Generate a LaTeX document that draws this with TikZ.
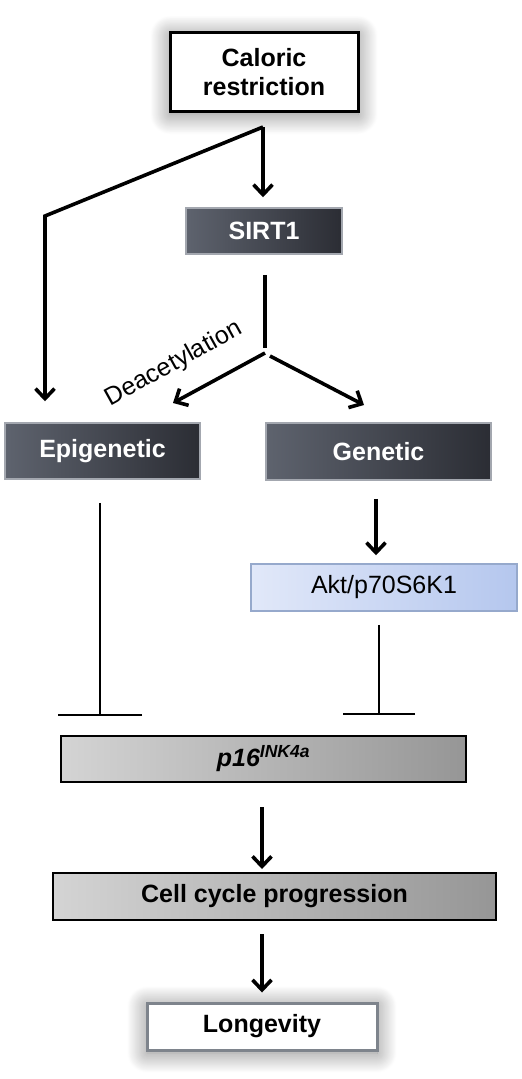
\documentclass[tikz,border=0pt]{standalone}
\usepackage{fontspec}
\setmainfont{Liberation Sans}
\usetikzlibrary{arrows.meta,shadows.blur,positioning,calc}
\definecolor{darkL}{HTML}{5E636E}
\definecolor{darkR}{HTML}{2B2D34}
\definecolor{darkB}{HTML}{A3A7AF}
\definecolor{aktL}{HTML}{E1E8F9}
\definecolor{aktR}{HTML}{B5C7EE}
\definecolor{aktB}{HTML}{96A9CC}
\definecolor{grayL}{HTML}{D4D4D4}
\definecolor{grayR}{HTML}{969696}
\definecolor{lonB}{HTML}{7E848C}

\begin{document}
\begin{tikzpicture}[x=1pt,y=-1pt,
    every node/.style={font=\fontsize{25}{29}\selectfont, inner sep=0pt},
    box/.style={draw, rectangle, align=center},
    glow/.style={box, fill=white, line width=3pt, font=\fontsize{25}{29}\selectfont\bfseries,
          blur shadow={shadow xshift=0pt, shadow yshift=-3pt, shadow blur radius=20pt,
          shadow blur steps=30, shadow opacity=50}},
    darkbox/.style={box, draw=darkB, line width=1.5pt, left color=darkL, right color=darkR,
          text=white, font=\fontsize{25}{29}\selectfont\bfseries},
    aktbox/.style={box, draw=aktB, line width=1.5pt, left color=aktL, right color=aktR},
    graybox/.style={box, draw=black, line width=2pt, left color=grayL, right color=grayR,
          font=\fontsize{25}{29}\selectfont\bfseries},
    arr/.style={line width=3.6pt, -{Straight Barb[length=10pt,width=19pt]}},
    inh/.style={line width=1.8pt}]
  \useasboundingbox (0,0) rectangle (522,1079);

  % boxes
  \node[glow, minimum width=188pt, minimum height=79pt] (cr) at (264,72) {Caloric\\restriction};
  \node[darkbox, minimum width=156pt, minimum height=46pt] (sirt) at (264,231) {SIRT1};
  \node[darkbox, minimum width=195pt, minimum height=56pt] (epi) at (102.5,451) {Epigenetic};
  \node[darkbox, minimum width=225pt, minimum height=57pt] (gen) at (378.5,451.5) {Genetic};
  \node[aktbox, minimum width=266pt, minimum height=47pt] (akt) at (384,587.5) {Akt/p70S6K1};
  \node[graybox, minimum width=405pt, minimum height=46pt] (p16) at (263.5,759)
       {\itshape p16\textsuperscript{INK4a}};
  \node[graybox, minimum width=443pt, minimum height=47pt] (ccp) at (274.5,896.5) {Cell cycle progression};
  \node[glow, draw=lonB, minimum width=230pt, minimum height=47pt] (lon) at (262,1026.5) {Longevity};

  % caloric restriction branches
  \coordinate (crsplit) at (263,127);
  \coordinate (crbend) at (45,216);
  \draw[arr, shorten >=10pt] (crsplit) -- (crsplit |- sirt.north);
  \draw[arr, shorten >=21pt, line join=miter] (crsplit) -- (crbend) -- (crbend |- epi.north);

  % SIRT1 split
  \coordinate (sirtsplit) at (265,353);
  \coordinate (epitip) at (173,403);
  \coordinate (gentip) at (364,405);
  \draw[line width=3.6pt] (sirt.south -| sirtsplit) ++(0,20) -- ([yshift=5pt]sirtsplit);
  \draw[arr] (sirtsplit) -- (epitip);
  \draw[arr] ([xshift=5pt,yshift=-3pt]sirtsplit) -- (gentip);
  \node[rotate=29] (deac) at (174,364) {Deacetylation};

  % inhibition of p16
  \coordinate (epibar) at (100,716);
  \coordinate (aktbar) at (379,715);
  \draw[inh, -{Bar[width=84pt]}] (epi.south -| epibar) ++(0,23) -- (epibar);
  \draw[inh, -{Bar[width=72pt]}] (akt.south -| aktbar) ++(0,13) -- (aktbar);

  % genetic to Akt
  \coordinate (genx) at (376,0);
  \draw[arr, shorten <=18pt, shorten >=8pt] (gen.south -| genx) -- (akt.north -| genx);

  % to longevity
  \draw[arr, shorten <=24pt, shorten >=3pt] (p16.south -| lon.north) -- (ccp.north -| lon.north);
  \draw[arr, shorten <=13pt, shorten >=9pt] (ccp.south -| lon.north) -- (lon.north);
\end{tikzpicture}
\end{document}
